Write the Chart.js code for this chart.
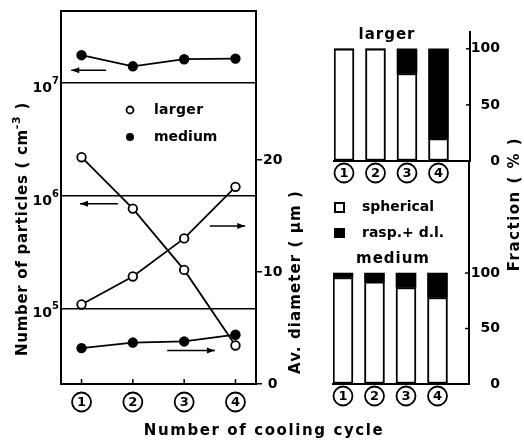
<!DOCTYPE html>
<html><head><meta charset="utf-8">
<script src="https://cdn.jsdelivr.net/npm/chart.js@4/dist/chart.umd.min.js"></script>
<style>
html,body{margin:0;padding:0;background:#fff;}
#wrap{position:relative;width:524px;height:441px;overflow:hidden;background:#fff;}
#wrap canvas{position:absolute;left:0;top:0;}
</style></head><body>
<div id="wrap">
<canvas id="cA" width="524" height="441"></canvas>
<canvas id="cB" width="524" height="441"></canvas>
<canvas id="cC" width="524" height="441"></canvas>
</div>
<script>
// ---- data ----
const cycles = [1, 2, 3, 4];
const cycleLabels = ['1', '2', '3', '4'];
const largerNumber = [2.2e6, 7.7e5, 2.2e5, 4.7e4];
const mediumNumber = [1.77e7, 1.41e7, 1.63e7, 1.65e7];
const largerDiameter = [7.1, 9.6, 13.0, 17.6];
const mediumDiameter = [3.2, 3.7, 3.8, 4.4];
const sphericalLarger = [100, 100, 78, 20];
const raspLarger = [0, 0, 22, 80];
const sphericalMedium = [96, 92, 87, 78];
const raspMedium = [4, 8, 13, 22];
const numberTicks = [1e5, 1e6, 1e7];
const numberExp = ['5', '6', '7'];
const diameterTicks = [0, 10, 20];
const fractionTicks = [0, 50, 100];

const FAM = '"DejaVu Sans", sans-serif';
const pts = arr => cycles.map((c, i) => ({x: c, y: arr[i]}));

function txt(ctx, s, x, y, o = {}) {
  ctx.save();
  ctx.font = `bold ${o.size || 14}px ${FAM}`;
  ctx.letterSpacing = (o.ls || 0) + 'px';
  ctx.fillStyle = '#000';
  ctx.textAlign = o.align || 'left';
  ctx.textBaseline = 'middle';
  ctx.fillText(s, x, y);
  ctx.restore();
}
function rich(ctx, parts, x, y, size, ls, rot) {
  ctx.save();
  ctx.translate(x, y);
  if (rot) ctx.rotate(rot);
  ctx.fillStyle = '#000';
  ctx.textBaseline = 'alphabetic';
  ctx.textAlign = 'left';
  const set = p => { ctx.font = `bold ${p[1] ? Math.round(size * 0.7) : size}px ${FAM}`; ctx.letterSpacing = ls + 'px'; };
  let w = 0;
  parts.forEach(p => { set(p); w += ctx.measureText(p[0]).width; });
  let cx = -w / 2;
  parts.forEach(p => { set(p); ctx.fillText(p[0], cx, p[1] ? -size * 0.15 : size * 0.36); cx += ctx.measureText(p[0]).width; });
  ctx.restore();
}
function circ(ctx, x, y, s) {
  ctx.save();
  ctx.beginPath(); ctx.arc(x, y, 9.5, 0, 2 * Math.PI);
  ctx.lineWidth = 1.8; ctx.strokeStyle = '#000'; ctx.stroke();
  ctx.restore();
  txt(ctx, s, x, y + 0.5, {size: 13, align: 'center'});
}
function arrow(ctx, x1, x2, y, headLeft) {
  ctx.save();
  ctx.strokeStyle = '#000'; ctx.fillStyle = '#000'; ctx.lineWidth = 1.5;
  ctx.beginPath(); ctx.moveTo(x1, y); ctx.lineTo(x2, y); ctx.stroke();
  const hx = headLeft ? x1 : x2, d = headLeft ? 1 : -1;
  ctx.beginPath(); ctx.moveTo(hx, y); ctx.lineTo(hx + d * 8, y - 3); ctx.lineTo(hx + d * 8, y + 3); ctx.closePath(); ctx.fill();
  ctx.restore();
}

const lineDs = (label, arr, axis, filled) => ({
  label, data: pts(arr), yAxisID: axis,
  borderColor: '#000', borderWidth: 1.8, tension: 0,
  pointRadius: 4.3, pointBorderWidth: 1.8, pointBorderColor: '#000',
  pointBackgroundColor: filled ? '#000' : '#fff'
});

const plugA = {
  id: 'plugA',
  afterDraw(chart) {
    const {ctx, chartArea: a, scales} = chart;
    const x = scales.x, yN = scales.yN, yD = scales.yD;
    ctx.save();
    ctx.strokeStyle = '#000'; ctx.lineWidth = 2;
    ctx.strokeRect(a.left, a.top, a.right - a.left, a.bottom - a.top);
    ctx.lineWidth = 1.5;
    cycles.forEach((c, i) => {
      const px = x.getPixelForValue(c);
      ctx.beginPath(); ctx.moveTo(px, a.bottom); ctx.lineTo(px, a.bottom - 5); ctx.stroke();
      circ(ctx, px, a.bottom + 18, cycleLabels[i]);
    });
    ctx.restore();
    numberTicks.forEach((v, i) => {
      const py = yN.getPixelForValue(v);
      ctx.save();
      ctx.fillStyle = '#000'; ctx.textBaseline = 'alphabetic';
      ctx.font = `bold 14px ${FAM}`; ctx.textAlign = 'right';
      ctx.fillText('10', a.left - 9, py + 9);
      ctx.font = `bold 10px ${FAM}`; ctx.textAlign = 'left';
      ctx.fillText(numberExp[i], a.left - 9, py + 1);
      ctx.restore();
    });
    // arrows (data coordinates)
    arrow(ctx, x.getPixelForValue(0.8), x.getPixelForValue(1.48), yN.getPixelForValue(1.3e7), true);
    arrow(ctx, x.getPixelForValue(0.97), x.getPixelForValue(1.71), yN.getPixelForValue(8.5e5), true);
    arrow(ctx, x.getPixelForValue(3.5), x.getPixelForValue(4.19), yD.getPixelForValue(14.1), false);
    arrow(ctx, x.getPixelForValue(2.67), x.getPixelForValue(3.6), yD.getPixelForValue(3.0), false);
    // legend
    const lx = a.left + 69, ly1 = a.top + 99, ly2 = a.top + 126;
    ctx.save();
    ctx.lineWidth = 1.8; ctx.strokeStyle = '#000';
    ctx.beginPath(); ctx.arc(lx, ly1, 3.5, 0, 2 * Math.PI); ctx.fillStyle = '#fff'; ctx.fill(); ctx.stroke();
    ctx.beginPath(); ctx.arc(lx, ly2, 4, 0, 2 * Math.PI); ctx.fillStyle = '#000'; ctx.fill();
    ctx.restore();
    txt(ctx, 'larger', lx + 24, ly1, {size: 14, ls: 0.3});
    txt(ctx, 'medium', lx + 24, ly2, {size: 14, ls: 0});
    // titles
    rich(ctx, [['Number of particles ( cm', 0], ['-3', 1], [' )', 0]], 22, 229, 15, 0.7, -Math.PI / 2);
    rich(ctx, [['Av. diameter ( µm )', 0]], 295, 282, 15, 1.1, -Math.PI / 2);
    rich(ctx, [['Number of cooling cycle', 0]], 264, 430, 15, 1.6);
  }
};

new Chart(document.getElementById('cA'), {
  type: 'line',
  data: {datasets: [
    lineDs('larger', largerNumber, 'yN', false),
    lineDs('medium', mediumNumber, 'yN', true),
    lineDs('larger d', largerDiameter, 'yD', false),
    lineDs('medium d', mediumDiameter, 'yD', true)
  ]},
  options: {
    responsive: false, animation: false,
    layout: {padding: {left: 0, right: 0, top: 11, bottom: 0}},
    plugins: {legend: {display: false}, tooltip: {enabled: false}},
    scales: {
      x: {type: 'linear', min: 0.6, max: 4.4, offset: false,
        afterBuildTicks: s => { s.ticks = cycles.map(v => ({value: v})); },
        ticks: {display: false}, grid: {display: false},
        border: {color: '#000', width: 2},
        afterFit: s => { s.height = 57; }},
      yN: {type: 'logarithmic', position: 'left', min: Math.pow(10, 4.33), max: Math.pow(10, 7.64),
        afterBuildTicks: s => { s.ticks = numberTicks.map(v => ({value: v})); },
        ticks: {display: false},
        grid: {color: '#000', lineWidth: 1.5, drawTicks: false},
        border: {color: '#000', width: 2},
        afterFit: s => { s.width = 61; }},
      yD: {type: 'linear', position: 'right', min: 0, max: 33.3,
        afterBuildTicks: s => { s.ticks = diameterTicks.map(v => ({value: v})); },
        ticks: {color: '#000', font: {family: FAM, size: 14, weight: 'bold'}, padding: 1, crossAlign: 'center'},
        grid: {drawOnChartArea: false, drawTicks: true, tickLength: 6, color: '#000', lineWidth: 1.5},
        border: {color: '#000', width: 2},
        afterFit: s => { s.width = 268; }}
    }
  },
  plugins: [plugA]
});

function barChart(id, sph, rasp, area, yMax, extra) {
  const plug = {
    id: 'plug' + id,
    afterDraw(chart) {
      const {ctx, chartArea: a, scales} = chart;
      ctx.save();
      ctx.strokeStyle = '#000'; ctx.lineWidth = 1.5;
      [50, 100].forEach(v => {
        const py = scales.y.getPixelForValue(v);
        ctx.beginPath(); ctx.moveTo(a.right, py); ctx.lineTo(a.right - 4, py); ctx.stroke();
      });
      ctx.restore();
      cycles.forEach((c, i) => circ(ctx, scales.x.getPixelForValue(c), a.bottom + 12, cycleLabels[i]));
      extra(ctx, a, scales);
    }
  };
  return new Chart(document.getElementById(id), {
    type: 'bar',
    data: {datasets: [
      {label: 'spherical', data: pts(sph), backgroundColor: '#fff', borderColor: '#000', borderWidth: 2, borderSkipped: false, barThickness: 20, stack: 's'},
      {label: 'rasp.+ d.l.', data: pts(rasp), backgroundColor: '#000', borderColor: '#000', borderWidth: 0, barThickness: 20, stack: 's'}
    ]},
    options: {
      responsive: false, animation: false,
      layout: {padding: {left: area.left, right: 24, top: area.top, bottom: 441 - area.bottom - 10}},
      plugins: {legend: {display: false}, tooltip: {enabled: false}},
      scales: {
        x: {type: 'linear', min: 0.683, max: 5.0, offset: false, stacked: true,
          ticks: {display: false}, grid: {display: true, drawOnChartArea: false, drawTicks: false, offset: false},
          border: {color: '#000', width: 2},
          afterFit: s => { s.height = 10; }},
        y: {type: 'linear', position: 'right', min: 0, max: yMax, stacked: true,
          afterBuildTicks: s => { s.ticks = fractionTicks.map(v => ({value: v})); },
          ticks: {color: '#000', font: {family: FAM, size: 14, weight: 'bold'}, padding: 3, crossAlign: 'far'},
          grid: {drawOnChartArea: false, drawTicks: false},
          border: {color: '#000', width: 2},
          afterFit: s => { s.width = 500 - area.right; }}
      }
    },
    plugins: [plug]
  });
}

barChart('cB', sphericalLarger, raspLarger, {left: 334, top: 32, right: 470, bottom: 161}, 115, (ctx, a) => {
  txt(ctx, 'larger', 387, 35, {size: 15, ls: 1, align: 'center'});
});
barChart('cC', sphericalMedium, raspMedium, {left: 333, top: 161, right: 469, bottom: 384}, 201, (ctx, a) => {
  ctx.save();
  ctx.strokeStyle = '#000'; ctx.lineWidth = 2;
  ctx.strokeRect(335, 203, 9, 9);
  ctx.fillStyle = '#000'; ctx.fillRect(334, 228, 11, 10);
  ctx.restore();
  txt(ctx, 'spherical', 362, 207, {size: 14, ls: 0});
  txt(ctx, 'rasp.+ d.l.', 362, 233, {size: 14, ls: 0});
  txt(ctx, 'medium', 393, 259, {size: 15, ls: 1, align: 'center'});
  rich(ctx, [['Fraction ( % )', 0]], 514, 204, 15, 1.5, -Math.PI / 2);
});
</script>
</body></html>
